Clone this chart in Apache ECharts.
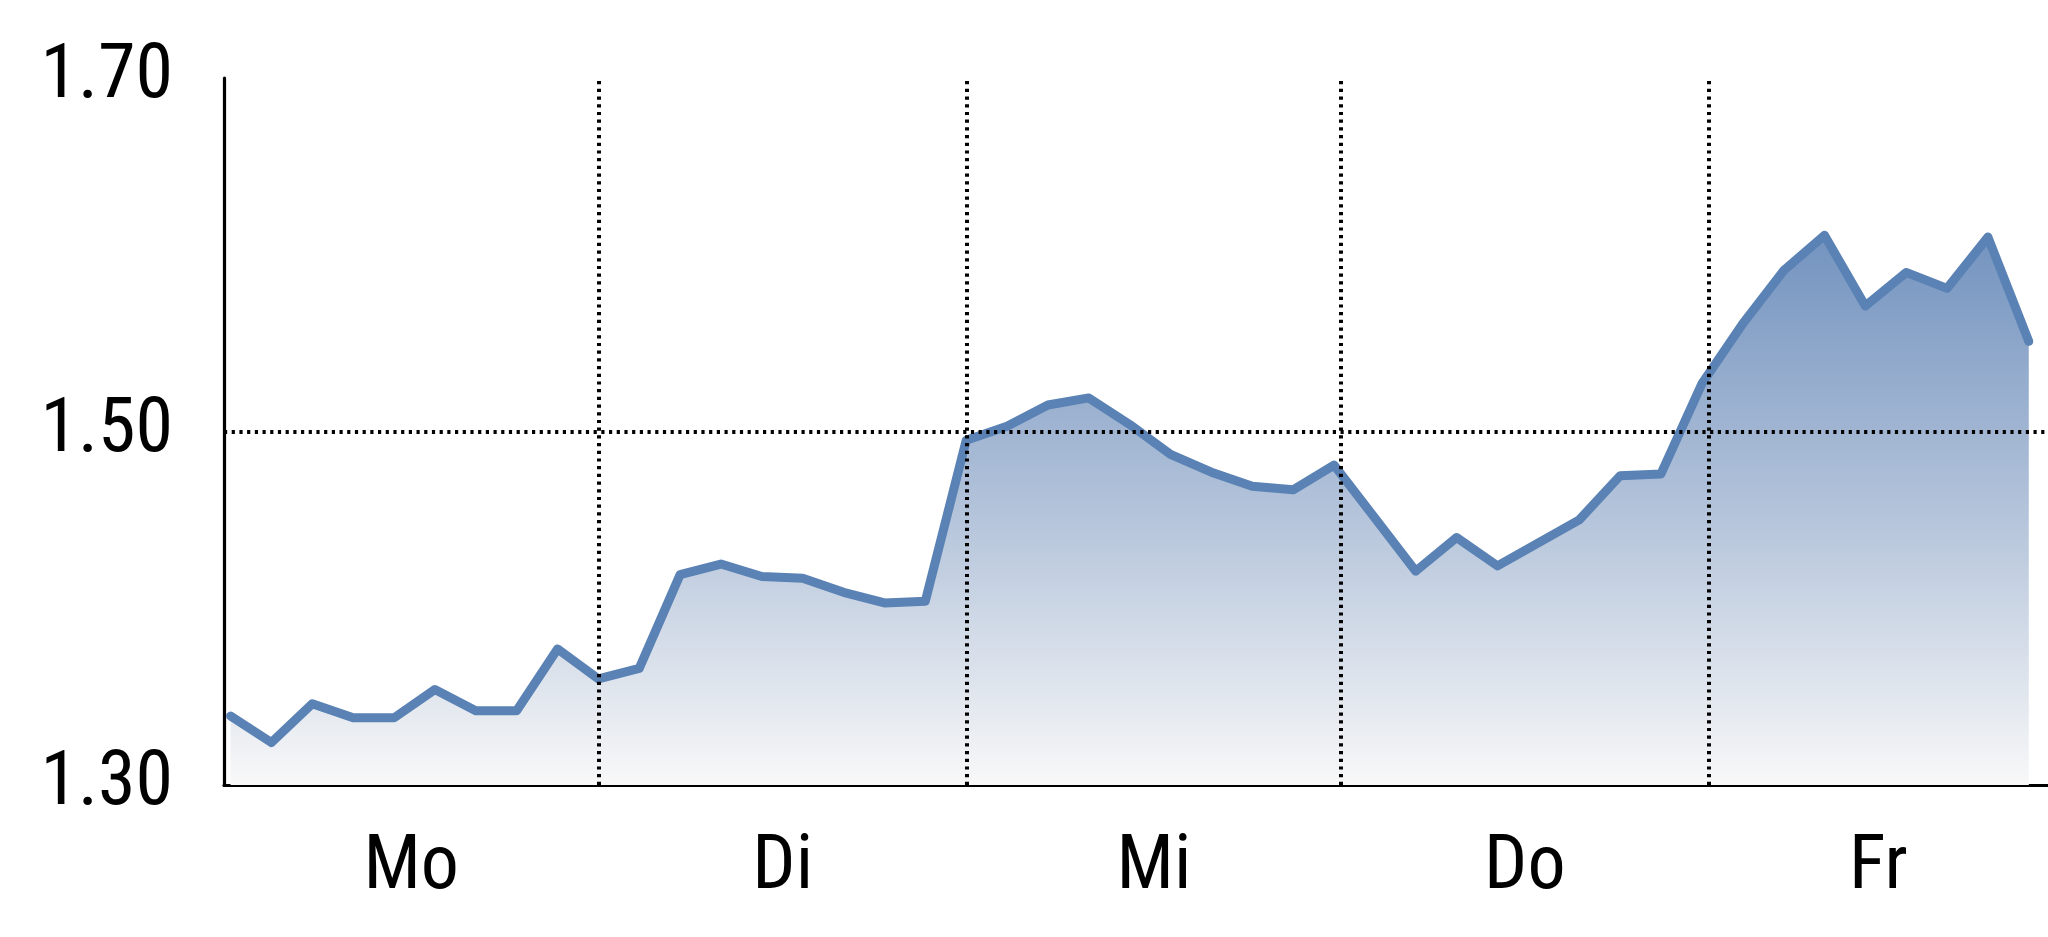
<!DOCTYPE html>
<html>
<head>
<meta charset="utf-8">
<script src="https://cdn.jsdelivr.net/npm/echarts@6/dist/echarts.min.js"></script>
<style>
html,body{margin:0;padding:0;background:#fff;}
#chart{width:2048px;height:937px;}
</style>
</head>
<body>
<div id="chart"></div>
<script>
// Day names shown on the x axis
var dayNames = ['Mo', 'Di', 'Mi', 'Do', 'Fr'];
// Positions (in sample-index units) where a new day starts
var dayBoundaries = [9.0, 18.02, 27.17, 36.17];
// Visible x range (sample-index units)
var xMin = -0.16;
var xMax = 44.47;
// Price samples
var values = [
  1.339, 1.324, 1.346, 1.338, 1.338, 1.354, 1.342, 1.342, 1.377, 1.360,
  1.366, 1.419, 1.425, 1.418, 1.417, 1.409, 1.403, 1.404, 1.495, 1.503,
  1.515, 1.519, 1.504, 1.487, 1.477, 1.469, 1.467, 1.481, 1.451, 1.421,
  1.440, 1.424, 1.437, 1.450, 1.475, 1.476, 1.527, 1.561, 1.591, 1.611,
  1.571, 1.590, 1.581, 1.610, 1.551
];
// Y tick values
var yTicks = [1.30, 1.50, 1.70];
var yGridValue = 1.50;

var seriesData = values.map(function (v, i) { return [i, v]; });
var edges = [xMin].concat(dayBoundaries).concat([xMax]);
var labelPositions = [];
for (var k = 0; k < edges.length - 1; k++) {
  labelPositions.push((edges[k] + edges[k + 1]) / 2);
}

var FONT = "'Liberation Sans Narrow', 'Arial Narrow', 'Roboto Condensed', 'Noto Sans Condensed', 'Open Sans Condensed', 'Liberation Sans', Arial, sans-serif";
var dotted = { color: '#000', width: 4, type: [3.2, 4.5], opacity: 1 };

var chart = echarts.init(document.getElementById('chart'), null, { renderer: 'canvas' });
chart.setOption({
  animation: false,
  backgroundColor: '#ffffff',
  grid: { left: 224, right: 0, top: 78, bottom: 152, containLabel: false },
  xAxis: {
    type: 'value',
    min: xMin,
    max: xMax,
    axisLine: { show: true, onZero: false, lineStyle: { color: '#000', width: 3.2 } },
    axisTick: { show: false },
    splitLine: { show: false },
    axisLabel: {
      show: true,
      customValues: labelPositions,
      margin: 46,
      color: '#000',
      fontSize: 76,
      fontFamily: FONT,
      formatter: function (val) {
        var best = 0, bd = Infinity;
        for (var j = 0; j < labelPositions.length; j++) {
          var d = Math.abs(labelPositions[j] - val);
          if (d < bd) { bd = d; best = j; }
        }
        return dayNames[best];
      }
    }
  },
  yAxis: {
    type: 'value',
    min: yTicks[0],
    max: yTicks[yTicks.length - 1],
    interval: 0.2,
    axisLine: { show: true, onZero: false, lineStyle: { color: '#000', width: 3.2 } },
    axisTick: { show: false },
    splitLine: { show: false },
    axisLabel: {
      margin: 51,
      padding: [12, 0, 0, 0],
      color: '#000',
      fontSize: 76,
      fontFamily: FONT,
      formatter: function (v) { return v.toFixed(2); }
    }
  },
  series: [{
    type: 'line',
    data: seriesData,
    showSymbol: false,
    symbol: 'none',
    lineStyle: { color: '#5a82b4', width: 9, cap: 'round', join: 'round' },
    areaStyle: {
      opacity: 1,
      origin: 'start',
      color: new echarts.graphic.LinearGradient(0, 0, 0, 1, [
        { offset: 0, color: '#7393bf' },
        { offset: 0.5, color: '#b3c3da' },
        { offset: 1, color: '#f8f8f8' }
      ])
    },
    z: 2,
    markLine: {
      silent: true,
      symbol: ['none', 'none'],
      label: { show: false },
      lineStyle: dotted,
      emphasis: { disabled: true },
      z: 5,
      data: dayBoundaries.map(function (b) { return { xAxis: b }; })
        .concat([{ yAxis: yGridValue }])
    }
  }]
});
</script>
</body>
</html>
